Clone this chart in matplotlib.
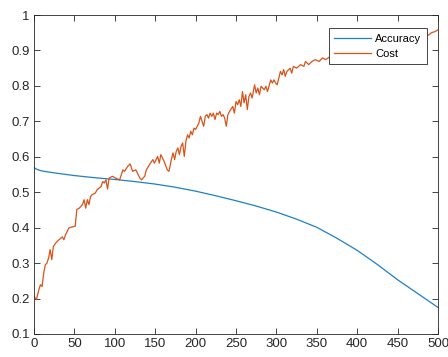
import numpy as np
import matplotlib
matplotlib.use("Agg")
import matplotlib.pyplot as plt

# values
acc_iter = [0, 3, 8, 15, 30, 50, 75, 100, 125, 150, 175, 200, 225, 250,
            275, 300, 325, 350, 375, 400, 425, 450, 475, 500]
accuracy = [0.570, 0.565, 0.561, 0.558, 0.553, 0.547, 0.541, 0.536, 0.530,
            0.523, 0.514, 0.503, 0.490, 0.476, 0.461, 0.444, 0.424, 0.401,
            0.370, 0.336, 0.296, 0.253, 0.214, 0.175]

cost_iter = [0, 3, 6, 8, 10, 12, 14, 16, 18, 20, 22, 24, 27, 31, 35, 37, 39,
             41, 43, 47, 51, 53, 56, 60, 62, 64, 66, 68, 70, 72, 76, 78, 83,
             85, 87, 89, 91, 93, 97, 101, 106, 108, 110, 112, 116, 119, 122,
             126, 131, 133, 137, 139, 143, 147, 149, 153, 155, 157, 161, 165,
             167, 170, 172, 174, 176, 178, 180, 182, 184, 186, 188, 190, 192,
             194, 196, 198, 200, 204, 206, 208, 210, 212, 214, 216, 218, 220,
             222, 224, 226, 228, 230, 232, 234, 236, 238, 240, 242, 246, 248,
             250, 252, 254, 256, 258, 260, 262, 264, 266, 268, 270, 273, 275,
             277, 279, 281, 285, 287, 289, 293, 295, 297, 299, 301, 305, 307,
             309, 311, 313, 317, 319, 321, 325, 330, 334, 336, 340, 344, 348,
             353, 357, 361, 366, 372, 378, 385, 392, 400, 410, 420, 430, 440,
             450, 460, 470, 478, 484, 488, 492, 496, 500]
cost = [0.206, 0.197, 0.225, 0.239, 0.234, 0.272, 0.295, 0.300, 0.314, 0.338,
        0.310, 0.347, 0.357, 0.366, 0.374, 0.366, 0.380, 0.389, 0.399, 0.402,
        0.404, 0.451, 0.455, 0.465, 0.479, 0.455, 0.479, 0.465, 0.488, 0.493,
        0.498, 0.507, 0.516, 0.530, 0.526, 0.535, 0.509, 0.540, 0.545, 0.540,
        0.535, 0.549, 0.563, 0.559, 0.573, 0.580, 0.559, 0.563, 0.540, 0.535,
        0.545, 0.563, 0.578, 0.592, 0.582, 0.601, 0.582, 0.606, 0.587, 0.563,
        0.559, 0.592, 0.611, 0.592, 0.615, 0.625, 0.606, 0.629, 0.639, 0.601,
        0.643, 0.662, 0.653, 0.672, 0.662, 0.681, 0.677, 0.695, 0.714, 0.700,
        0.686, 0.714, 0.719, 0.709, 0.723, 0.714, 0.723, 0.705, 0.723, 0.719,
        0.728, 0.714, 0.719, 0.709, 0.686, 0.719, 0.728, 0.742, 0.723, 0.756,
        0.747, 0.761, 0.742, 0.784, 0.752, 0.775, 0.733, 0.770, 0.780, 0.766,
        0.803, 0.780, 0.794, 0.775, 0.799, 0.789, 0.799, 0.784, 0.817, 0.808,
        0.817, 0.808, 0.803, 0.841, 0.831, 0.846, 0.827, 0.841, 0.850, 0.836,
        0.855, 0.850, 0.860, 0.855, 0.869, 0.860, 0.869, 0.874, 0.869, 0.879,
        0.874, 0.882, 0.878, 0.888, 0.885, 0.895, 0.892, 0.903, 0.900, 0.912,
        0.910, 0.922, 0.925, 0.933, 0.938, 0.945, 0.943, 0.950, 0.953, 0.958]

x_ticks = [0, 50, 100, 150, 200, 250, 300, 350, 400, 450, 500]
y_ticks = [0.1, 0.2, 0.3, 0.4, 0.5, 0.6, 0.7, 0.8, 0.9, 1.0]
y_labels = ["0.1", "0.2", "0.3", "0.4", "0.5", "0.6", "0.7", "0.8", "0.9", "1"]

plt.rcParams["font.family"] = ["Liberation Sans", "DejaVu Sans"]

fig = plt.figure(figsize=(4.48, 3.57), dpi=100)
ax = fig.add_axes([34 / 448, 23 / 357, 404 / 448, 319 / 357])

ax.plot(acc_iter, accuracy, color="#1f80c4", linewidth=0.9, label="Accuracy")
ax.plot(cost_iter, cost, color="#d95319", linewidth=0.9, label="Cost")

ax.set_xlim(0, 500)
ax.set_ylim(0.1, 1.0)
ax.set_xticks(x_ticks)
ax.set_yticks(y_ticks)
ax.set_yticklabels(y_labels)

axis_color = "#262626"
for spine in ax.spines.values():
    spine.set_color(axis_color)
    spine.set_linewidth(0.6)
ax.tick_params(direction="in", top=True, right=True, length=4, width=0.6,
               color=axis_color, labelcolor=axis_color, labelsize=9.5, pad=3)

leg = ax.legend(loc="upper right", bbox_to_anchor=(0.973, 0.959),
                borderaxespad=0, fontsize=8, frameon=True, fancybox=False,
                handlelength=3.3, handletextpad=0.4, borderpad=0.5,
                labelspacing=0.45)
leg.get_frame().set_edgecolor(axis_color)
leg.get_frame().set_linewidth(0.6)
leg.get_frame().set_alpha(1)

fig.savefig("out.png", dpi=100)
